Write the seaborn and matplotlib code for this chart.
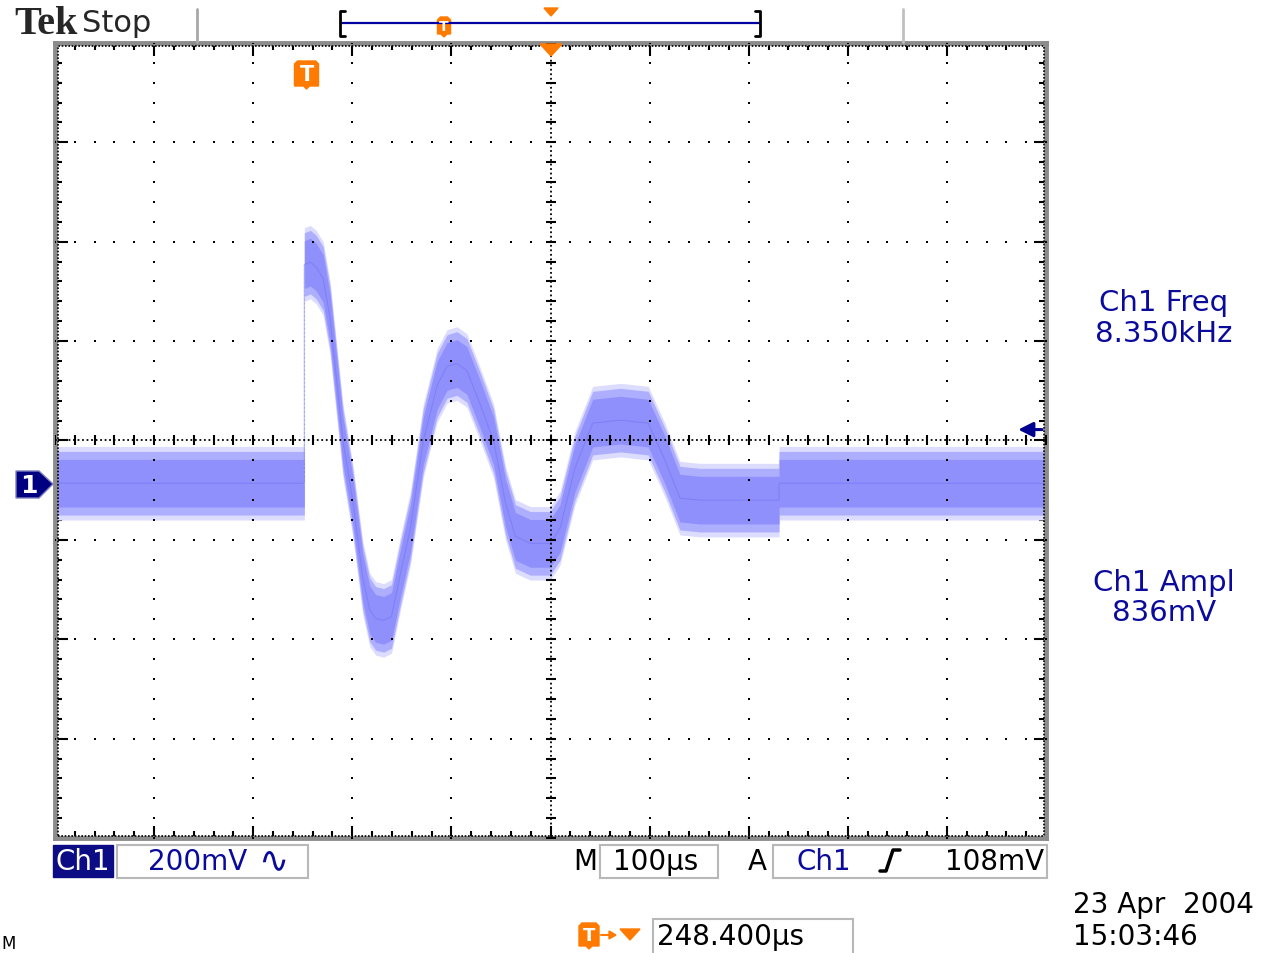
import matplotlib
matplotlib.use('Agg')
import matplotlib.pyplot as plt
from matplotlib.patches import Polygon, Rectangle
from matplotlib.lines import Line2D
import seaborn as sns

# Lecture de la trace Ch1 : temps depuis le declenchement (us), niveau au-dessus de la masse (mV)
temps_us = [-251.6, 0.0, 0.0, 6, 12, 19, 26, 39, 49, 59, 66, 72, 80, 88, 97,
            107, 120, 134, 144, 154, 164, 177, 191, 203, 213, 228, 248, 258,
            273, 291, 319, 347, 364, 379, 399, 479, 479, 748.4]
ch1_mv = [0, 0, 440, 445, 435, 412, 332, 85, -36, -191, -255, -272, -276, -268, -181,
          -91, 85, 197, 235, 241, 227, 161, 85, -40, -107, -121, -121, -91,
          30, 121, 127, 121, 46, -30, -34, -34, 0, 0]
bruit_mv = 64          # demi-hauteur de la bande de bruit

# Reglages de l'oscilloscope
volts_div = 200        # mV/div
temps_div = 100        # us/div
retard_us = 248.4      # position du centre de l'ecran par rapport au declenchement
decalage_masse = 86    # niveau du centre de l'ecran par rapport a la masse (mV)
niveau_trig = 108      # mV

W, H = 1277, 954
BLEU = '#0a0a9c'
ORANGE = '#ff7a00'

sns.set_style('white')
plt.rcParams['font.family'] = ['DejaVu Sans']


def fx(px):
    return px / W


def fy(py):
    return 1 - py / H


def poly(fig, pts, **kw):
    fig.add_artist(Polygon([(fx(x), fy(y)) for x, y in pts], closed=True,
                           transform=fig.transFigure, **kw))


def ligne(fig, xs, ys, **kw):
    fig.add_artist(Line2D([fx(x) for x in xs], [fy(y) for y in ys],
                          transform=fig.transFigure, **kw))


def boite(fig, x0, y0, x1, y1, **kw):
    fig.add_artist(Rectangle((fx(x0), fy(y1)), (x1 - x0) / W, (y1 - y0) / H,
                             transform=fig.transFigure, **kw))


def marqueur_t(fig, cx, cy, w, h, fs):
    x0, x1 = cx - w / 2, cx + w / 2
    y0, y1 = cy - h / 2, cy + h / 2
    poly(fig, [(x0, y0 + 3), (x0 + 3, y0), (x1 - 3, y0), (x1, y0 + 3), (x1, y1 - 3),
               (cx + 3, y1 - 3), (cx, y1), (cx - 3, y1 - 3), (x0, y1 - 3)],
         fc=ORANGE, ec=ORANGE, lw=1)
    fig.text(fx(cx), fy(cy - 1), 'T', color='white', fontsize=fs, fontweight='bold',
             ha='center', va='center')


fig = plt.figure(figsize=(W / 100, H / 100), dpi=100)
fig.patch.set_facecolor('white')
ax = fig.add_axes([fx(55), fy(839), 991 / W, 795 / H])

x0 = retard_us - 5 * temps_div
y0 = decalage_masse - 4 * volts_div
ax.set_xlim(x0, x0 + 10 * temps_div)
ax.set_ylim(y0, y0 + 8 * volts_div)

# bande de bruit de la trace
haut = [v + bruit_mv for v in ch1_mv]
bas = [v - bruit_mv for v in ch1_mv]
ax.fill_between(temps_us, [v + 10 for v in haut], [v - 10 for v in bas],
                color='#dcdcff', lw=0, zorder=1)
ax.fill_between(temps_us, haut, bas, color='#aeaeff', lw=0, zorder=1)
ax.fill_between(temps_us, [v - 16 for v in haut], [v + 16 for v in bas],
                color='#9090fc', lw=0, zorder=1)
sns.lineplot(x=temps_us, y=ch1_mv, ax=ax, sort=False, estimator=None,
             color='#7070f4', lw=0.8, alpha=0.5, zorder=2)
ax.plot([0, 0], [ch1_mv[1], ch1_mv[2]], color='#c8c8ff', lw=1, ls=(0, (1, 2)), zorder=1)

# graticule
maj_x = [x0 + k * temps_div for k in range(11)]
maj_y = [y0 + k * volts_div for k in range(9)]
min_x = [x0 + k * temps_div / 5 for k in range(51)]
min_y = [y0 + k * volts_div / 5 for k in range(41)]
cx, cy = maj_x[5], maj_y[4]
for x in maj_x[1:-1]:
    if x != cx:
        ax.scatter([x] * len(min_y), min_y, s=3, marker='s', color='black', lw=0, zorder=3)
for y in maj_y[1:-1]:
    if y != cy:
        ax.scatter(min_x, [y] * len(min_x), s=3, marker='s', color='black', lw=0, zorder=3)
ax.axvline(cx, color='black', lw=1.3, ls=(0, (1, 1.5)), zorder=3)
ax.axhline(cy, color='black', lw=1.3, ls=(0, (1, 1.5)), zorder=3)
ax.scatter([cx] * len(min_y), min_y, s=50, marker='_', color='black', lw=1.5, zorder=3)
ax.scatter(min_x, [cy] * len(min_x), s=50, marker='|', color='black', lw=1.5, zorder=3)

ax.set_xticks(maj_x)
ax.set_yticks(maj_y)
ax.set_xticks(min_x, minor=True)
ax.set_yticks(min_y, minor=True)
ax.tick_params(which='both', direction='in', top=True, right=True, bottom=True, left=True,
               labelbottom=False, labelleft=False, color='black', width=1.5)
ax.tick_params(which='major', length=9)
ax.tick_params(which='minor', length=5)
ax.set_xlabel('')
ax.set_ylabel('')
for s in ax.spines.values():
    s.set_color('#8c8c8c')
    s.set_linewidth(3.5)
dx, dy = 2.5 / 991, 2.5 / 795
ax.plot([dx, 1 - dx, 1 - dx, dx, dx], [dy, dy, 1 - dy, 1 - dy, dy], transform=ax.transAxes,
        color='black', lw=1.2, ls=(0, (1, 1)), clip_on=False, zorder=4)

# niveau de declenchement
ax.annotate('', xy=(0.972, niveau_trig), xytext=(0.996, niveau_trig),
            xycoords=('axes fraction', 'data'),
            arrowprops=dict(arrowstyle='-|>', color='#000090', lw=2.2, mutation_scale=22,
                            shrinkA=0, shrinkB=0))

# marqueur de masse "1"
poly(fig, [(16, 472), (39, 472), (53, 485), (39, 499), (16, 499)], fc='#000080', ec='#8080c0', lw=1)
fig.text(fx(29), fy(486), '1', color='white', fontsize=18, fontweight='bold', ha='center', va='center')

# marqueurs orange dans l'ecran
marqueur_t(fig, 306.5, 76, 24, 28, 15)
poly(fig, [(540, 45), (562, 45), (551, 57)], fc=ORANGE, ec=ORANGE)

# barre superieure
fig.text(fx(14), fy(25), 'Tek', family='Liberation Serif', fontweight='bold', fontsize=29,
         ha='left', va='center')
fig.text(fx(82), fy(24), 'Stop', fontsize=22, ha='left', va='center')
ligne(fig, [197, 197], [10, 43], color='#a8a8a8', lw=2)
ligne(fig, [903, 903], [10, 43], color='#c0c0c0', lw=2)
ligne(fig, [341, 760], [24, 24], color='#0000a0', lw=1.6)
ligne(fig, [345, 340, 340, 345], [12, 12, 37, 37], color='black', lw=2)
ligne(fig, [755, 760, 760, 755], [12, 12, 37, 37], color='black', lw=2)
marqueur_t(fig, 444, 28, 13, 20, 10)
poly(fig, [(544, 9), (558, 9), (551, 17)], fc=ORANGE, ec=ORANGE)

# textes de mesure a droite
for y, txt in [(303, 'Ch1 Freq'), (334, '8.350kHz'), (583, 'Ch1 Ampl'), (613, '836mV')]:
    fig.text(fx(1164), fy(y), txt, color=BLEU, fontsize=21, ha='center', va='center')

# barre inferieure
boite(fig, 53, 846, 113, 878, fc='#0c0c84', ec='#0c0c84')
fig.text(fx(83), fy(862), 'Ch1', color='white', fontsize=20, ha='center', va='center')
boite(fig, 117, 846, 308, 879, fc='white', ec='#b8b8b8', lw=1.5)
fig.text(fx(148), fy(862), '200mV', color=BLEU, fontsize=20, ha='left', va='center')
fig.text(fx(273), fy(861), '\u223f', color=BLEU, fontsize=26, ha='center', va='center')
fig.text(fx(573), fy(862), 'M', color='black', fontsize=20, ha='left', va='center')
boite(fig, 600, 846, 718, 879, fc='white', ec='#b8b8b8', lw=1.5)
fig.text(fx(613), fy(862), '100\u00b5s', color='black', fontsize=20, ha='left', va='center')
fig.text(fx(748), fy(862), 'A', color='black', fontsize=20, ha='left', va='center')
boite(fig, 773, 846, 1047, 879, fc='white', ec='#b8b8b8', lw=1.5)
fig.text(fx(797), fy(862), 'Ch1', color=BLEU, fontsize=20, ha='left', va='center')
ligne(fig, [880, 886, 893, 900], [872, 872, 851, 851], color='black', lw=2.5)
fig.text(fx(1044), fy(862), '108mV', color='black', fontsize=20, ha='right', va='center')

marqueur_t(fig, 589, 937, 20, 26, 13)
ligne(fig, [601, 614], [936, 936], color=ORANGE, lw=1.5)
poly(fig, [(609, 932), (616, 936), (609, 940)], fc=ORANGE, ec=ORANGE)
poly(fig, [(620, 930), (640, 930), (630, 941)], fc=ORANGE, ec=ORANGE)
boite(fig, 653, 920, 853, 956, fc='white', ec='#b8b8b8', lw=1.5)
fig.text(fx(657), fy(937), '248.400\u00b5s', color='black', fontsize=20, ha='left', va='center')

fig.text(fx(1073), fy(905), '23 Apr  2004', color='black', fontsize=20, ha='left', va='center')
fig.text(fx(1073), fy(937), '15:03:46', color='black', fontsize=20, ha='left', va='center')
fig.text(fx(1), fy(944), 'M', color='black', fontsize=12, ha='left', va='center')

fig.savefig('out.png', dpi=100, facecolor='white')
